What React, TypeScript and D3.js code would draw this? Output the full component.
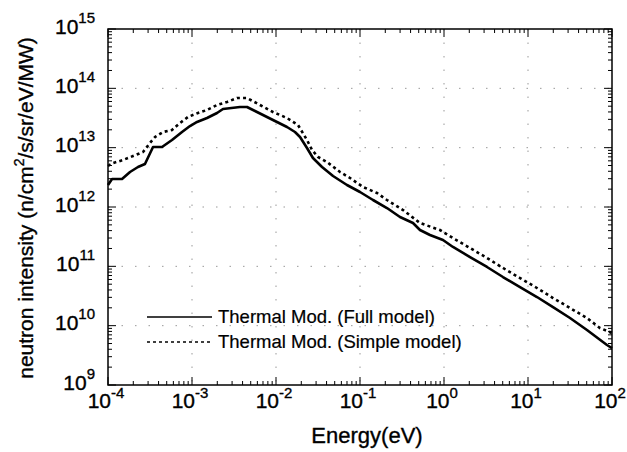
import React from "react";
import * as d3 from "d3";

// log10(E / eV) and log10(intensity)
const fullLogE = [-4.0, -3.952, -3.833, -3.738, -3.643, -3.56, -3.464, -3.357, -3.238, -3.119, -3.024, -2.94, -2.821, -2.702, -2.631, -2.429, -2.345, -2.226, -2.036, -1.869, -1.774, -1.714, -1.631, -1.56, -1.452, -1.321, -1.155, -1.0, -0.845, -0.679, -0.524, -0.369, -0.286, -0.167, -0.012, 0.107, 0.31, 0.512, 0.702, 0.905, 1.107, 1.298, 1.5, 1.702, 1.94, 2.0];
const fullLogI = [12.371, 12.472, 12.472, 12.59, 12.674, 12.725, 13.011, 13.011, 13.129, 13.264, 13.365, 13.433, 13.5, 13.584, 13.652, 13.685, 13.685, 13.601, 13.466, 13.348, 13.264, 13.18, 12.994, 12.826, 12.674, 12.522, 12.371, 12.253, 12.118, 11.983, 11.831, 11.73, 11.612, 11.528, 11.444, 11.326, 11.157, 10.989, 10.82, 10.651, 10.483, 10.314, 10.129, 9.927, 9.674, 9.623];

const simpleLogE = [-4.0, -3.94, -3.821, -3.702, -3.583, -3.5, -3.44, -3.345, -3.238, -3.143, -3.048, -2.929, -2.821, -2.702, -2.583, -2.464, -2.345, -2.19, -2.036, -1.869, -1.738, -1.631, -1.571, -1.5, -1.393, -1.238, -1.119, -0.964, -0.798, -0.679, -0.488, -0.286, -0.048, 0.107, 0.31, 0.512, 0.702, 0.905, 1.107, 1.298, 1.5, 1.702, 1.857, 2.0];
const simpleLogI = [12.691, 12.741, 12.792, 12.859, 12.927, 13.079, 13.18, 13.264, 13.298, 13.416, 13.517, 13.584, 13.635, 13.719, 13.77, 13.837, 13.837, 13.719, 13.601, 13.5, 13.382, 13.129, 12.961, 12.843, 12.758, 12.59, 12.489, 12.337, 12.236, 12.118, 11.949, 11.73, 11.612, 11.477, 11.309, 11.14, 10.972, 10.803, 10.635, 10.466, 10.298, 10.129, 9.96, 9.876];

const xTickExps = [-4, -3, -2, -1, 0, 1, 2];
const yTickExps = [9, 10, 11, 12, 13, 14, 15];
const seriesLabels = ["Thermal Mod. (Full model)", "Thermal Mod. (Simple model)"];
const xTitle = "Energy(eV)";

const W = 627, H = 452;
const L = 108, R = 612, T = 29, B = 385;
const FONT = "'Liberation Sans', Arial, Helvetica, sans-serif";
const NARROW = "'Liberation Sans Narrow', 'Arial Narrow', 'Liberation Sans', sans-serif";

export default function App() {
  const x = d3.scaleLog().domain([1e-4, 1e2]).range([L, R]);
  const y = d3.scaleLog().domain([1e9, 1e15]).range([B, T]);

  const full = fullLogE.map((e, i) => [e, fullLogI[i]]);
  const simple = simpleLogE.map((e, i) => [e, simpleLogI[i]]);
  const line = d3
    .line<number[]>()
    .x((d) => x(Math.pow(10, d[0])))
    .y((d) => y(Math.pow(10, d[1])));

  const xMinor: number[] = [];
  for (let k = 0; k < xTickExps.length - 1; k++)
    for (let m = 2; m <= 9; m++) xMinor.push(m * Math.pow(10, xTickExps[k]));
  const yMinor: number[] = [];
  for (let k = 0; k < yTickExps.length - 1; k++)
    for (let m = 2; m <= 9; m++) yMinor.push(m * Math.pow(10, yTickExps[k]));

  const MAJ = 8, MIN = 4;
  const txt = { fill: "#000", stroke: "#000", strokeWidth: 0.35 };

  return (
    <svg width={W} height={H} style={{ position: "absolute", left: 0, top: 0, background: "#fff" }} fontFamily={FONT}>
      <rect x={0} y={0} width={W} height={H} fill="#fff" />
      {/* grid */}
      <g stroke="#999" strokeWidth={1} strokeDasharray="1.5,12">
        {xTickExps.slice(1, -1).map((e) => (
          <line key={"gx" + e} x1={x(Math.pow(10, e))} x2={x(Math.pow(10, e))} y1={T} y2={B} />
        ))}
        {yTickExps.slice(1, -1).map((e) => (
          <line key={"gy" + e} x1={L} x2={R} y1={y(Math.pow(10, e))} y2={y(Math.pow(10, e))} />
        ))}
      </g>
      {/* ticks */}
      <g stroke="#000" strokeWidth={1}>
        {xTickExps.map((e) => {
          const px = x(Math.pow(10, e));
          return (
            <g key={"xt" + e}>
              <line x1={px} x2={px} y1={B} y2={B - MAJ} />
              <line x1={px} x2={px} y1={T} y2={T + MAJ} />
            </g>
          );
        })}
        {xMinor.map((v, i) => {
          const px = x(v);
          return (
            <g key={"xm" + i}>
              <line x1={px} x2={px} y1={B} y2={B - MIN} />
              <line x1={px} x2={px} y1={T} y2={T + MIN} />
            </g>
          );
        })}
        {yTickExps.map((e) => {
          const py = y(Math.pow(10, e));
          return (
            <g key={"yt" + e}>
              <line x1={L} x2={L + MAJ} y1={py} y2={py} />
              <line x1={R} x2={R - MAJ} y1={py} y2={py} />
            </g>
          );
        })}
        {yMinor.map((v, i) => {
          const py = y(v);
          return (
            <g key={"ym" + i}>
              <line x1={L} x2={L + MIN} y1={py} y2={py} />
              <line x1={R} x2={R - MIN} y1={py} y2={py} />
            </g>
          );
        })}
      </g>
      {/* frame */}
      <rect x={L} y={T} width={R - L} height={B - T} fill="none" stroke="#000" strokeWidth={1.5} />
      {/* data */}
      <path d={line(full) || ""} fill="none" stroke="#000" strokeWidth={2.6} strokeLinejoin="round" />
      <path d={line(simple) || ""} fill="none" stroke="#000" strokeWidth={2.6} strokeDasharray="3,3.2" />
      {/* tick labels */}
      <g fontSize={21} fontFamily={NARROW} {...txt}>
        {xTickExps.map((e) => (
          <text key={"xl" + e} x={x(Math.pow(10, e)) - 2} y={408} textAnchor="middle">
            10<tspan fontSize={15} dy={-10}>{e}</tspan>
          </text>
        ))}
        {yTickExps.map((e) => (
          <text key={"yl" + e} x={95} y={y(Math.pow(10, e)) + 4.5} textAnchor="end">
            10<tspan fontSize={15} dy={-11}>{e}</tspan>
          </text>
        ))}
      </g>
      {/* axis titles */}
      <text x={367} y={443} textAnchor="middle" fontSize={22} {...txt}>{xTitle}</text>
      <text transform={`translate(33,208) rotate(-90)`} textAnchor="middle" fontSize={21} {...txt}>
        neutron intensity (n/cm<tspan fontSize={14} dy={-9}>2</tspan>
        <tspan dy={9}>/s/sr/eV/MW)</tspan>
      </text>
      {/* legend */}
      <line x1={147} x2={212} y1={317} y2={317} stroke="#000" strokeWidth={1.5} />
      <line x1={147} x2={212} y1={342} y2={342} stroke="#000" strokeWidth={1.5} strokeDasharray="3,3" />
      <text x={218} y={323} fontSize={18.5} {...txt} strokeWidth={0.2}>{seriesLabels[0]}</text>
      <text x={218} y={348} fontSize={18.5} {...txt} strokeWidth={0.2}>{seriesLabels[1]}</text>
    </svg>
  );
}
